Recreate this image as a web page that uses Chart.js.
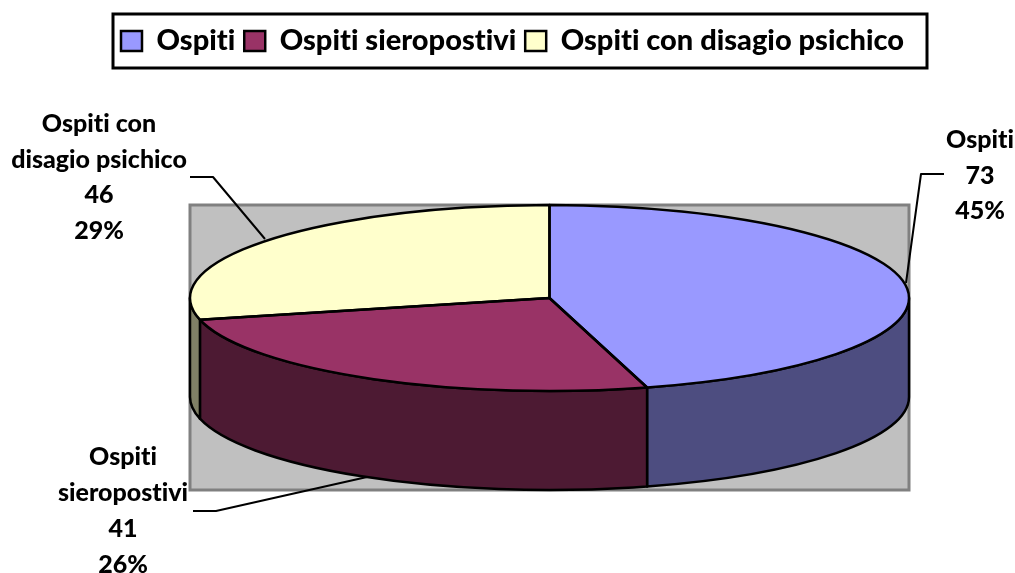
<!DOCTYPE html>
<html>
<head>
<meta charset="utf-8">
<style>
  html, body { margin: 0; background: #fff; }
  canvas { display: block; }
</style>
<script src="https://cdn.jsdelivr.net/npm/chart.js@4"></script>
</head>
<body>
<canvas id="pie" width="1015" height="573"></canvas>
<script>
// ── Data ──
const categories = ['Ospiti', 'Ospiti sieropostivi', 'Ospiti con disagio psichico'];
const values = [73, 41, 46];
const percents = ['45%', '26%', '29%'];
const labelNames = [['Ospiti'], ['Ospiti', 'sieropostivi'], ['Ospiti con', 'disagio psichico']];
const topColors = ['#9999FF', '#993366', '#FFFFCC'];
const sideColors = ['#4D4D80', '#4D1A33', '#808066'];

// ── Layout ──
const FONT = 'Lato';
const PLOT = { left: 190, top: 205, right: 909, bottom: 490 };
const LEGEND_FRAME = { left: 113, top: 14, right: 927, bottom: 68 };
const LEGEND_POS = { left: 112, top: 17.5, right: 950, bottom: 68 }; // right is wider than the frame so the row doesn't wrap
const RX = (PLOT.right - PLOT.left) / 2;
const RY = 93;
const DEPTH = 99;

// label anchor + leader line, one per slice
const dataLabels = [
  { x: 980, y: 140, step: 35.5, line: [[944, 174], [921, 174], [906, 283]] },
  { x: 123, y: 457, step: 36, line: [[193, 511], [216, 511], [367, 477]] },
  { x: 99, y: 124, step: 35.5, line: [[190, 177], [213, 177], [265, 239]] },
];

// ── Plugin: legend frame, grey wall, pie thickness, outlines, data labels ──
const pie3dPlugin = {
  id: 'pie3d',
  afterLayout(chart) {
    Object.assign(chart.legend, LEGEND_POS);
    Object.assign(chart.chartArea, PLOT, {
      width: PLOT.right - PLOT.left,
      height: PLOT.bottom - PLOT.top,
    });
  },
  beforeDraw(chart) {
    const ctx = chart.ctx;
    ctx.textRendering = 'optimizeSpeed'; // no "ti" ligature
    ctx.save();
    ctx.fillStyle = '#fff';
    ctx.fillRect(0, 0, chart.width, chart.height);
    ctx.strokeStyle = '#000';
    ctx.lineWidth = 3;
    ctx.strokeRect(LEGEND_FRAME.left, LEGEND_FRAME.top, LEGEND_FRAME.right - LEGEND_FRAME.left, LEGEND_FRAME.bottom - LEGEND_FRAME.top);
    ctx.fillStyle = '#C0C0C0';
    ctx.fillRect(PLOT.left, PLOT.top, PLOT.right - PLOT.left, PLOT.bottom - PLOT.top);
    ctx.strokeStyle = '#808080';
    ctx.strokeRect(PLOT.left, PLOT.top, PLOT.right - PLOT.left, PLOT.bottom - PLOT.top);
    ctx.restore();
  },
  beforeDatasetsDraw(chart) {
    const ctx = chart.ctx;
    const arcs = chart.getDatasetMeta(0).data;
    const cx = arcs[0].x;
    const cy = PLOT.top + RY;

    // front wall of each slice, only the part facing the viewer (0..PI)
    ctx.save();
    ctx.strokeStyle = '#000';
    ctx.lineWidth = 2.5;
    ctx.lineJoin = 'round';
    arcs.forEach((arc, i) => {
      const a = Math.max(arc.startAngle, 0);
      const b = Math.min(arc.endAngle, Math.PI);
      if (b <= a) return;
      ctx.beginPath();
      ctx.ellipse(cx, cy, RX, RY, 0, a, b);
      ctx.ellipse(cx, cy + DEPTH, RX, RY, 0, b, a, true);
      ctx.closePath();
      ctx.fillStyle = sideColors[i];
      ctx.fill();
      ctx.stroke();
    });
    ctx.restore();

    // squash the library's round pie into the top face
    ctx.save();
    ctx.translate(cx, cy);
    ctx.scale(1, RY / RX);
    ctx.translate(-cx, -arcs[0].y);
  },
  afterDatasetsDraw(chart) {
    const ctx = chart.ctx;
    ctx.restore();
    const arcs = chart.getDatasetMeta(0).data;
    const cx = arcs[0].x;
    const cy = PLOT.top + RY;

    ctx.save();
    ctx.strokeStyle = '#000';
    ctx.lineWidth = 2.5;
    ctx.lineJoin = 'round';
    arcs.forEach(arc => {
      ctx.beginPath();
      ctx.moveTo(cx, cy);
      ctx.ellipse(cx, cy, RX, RY, 0, arc.startAngle, arc.endAngle);
      ctx.closePath();
      ctx.stroke();
    });

    // leader lines + labels
    ctx.lineWidth = 2;
    ctx.font = `900 25px ${FONT}`;
    ctx.fillStyle = '#000';
    ctx.textAlign = 'center';
    ctx.textBaseline = 'middle';
    dataLabels.forEach((d, i) => {
      ctx.beginPath();
      d.line.forEach(([x, y], j) => (j ? ctx.lineTo(x, y) : ctx.moveTo(x, y)));
      ctx.stroke();
      const lines = [...labelNames[i], String(values[i]), percents[i]];
      lines.forEach((t, j) => ctx.fillText(t, d.x, d.y + j * d.step));
    });
    ctx.restore();
  },
};

new Chart(document.getElementById('pie'), {
  type: 'pie',
  data: {
    labels: categories,
    datasets: [{
      data: values,
      backgroundColor: topColors,
      borderWidth: 0,
      clip: false,
    }],
  },
  plugins: [pie3dPlugin],
  options: {
    responsive: false,
    animation: false,
    radius: RX,
    events: [],
    plugins: {
      tooltip: { enabled: false },
      legend: {
        position: 'top',
        align: 'start',
        labels: {
          color: '#000',
          font: { family: FONT, size: 29, weight: '900' },
          boxWidth: 21,
          boxHeight: 20,
          padding: 9,
          generateLabels(chart) {
            return Chart.overrides.pie.plugins.legend.labels.generateLabels(chart)
              .map(item => ({ ...item, lineWidth: 2.5, strokeStyle: '#000' }));
          },
        },
      },
    },
  },
});
</script>
</body>
</html>
